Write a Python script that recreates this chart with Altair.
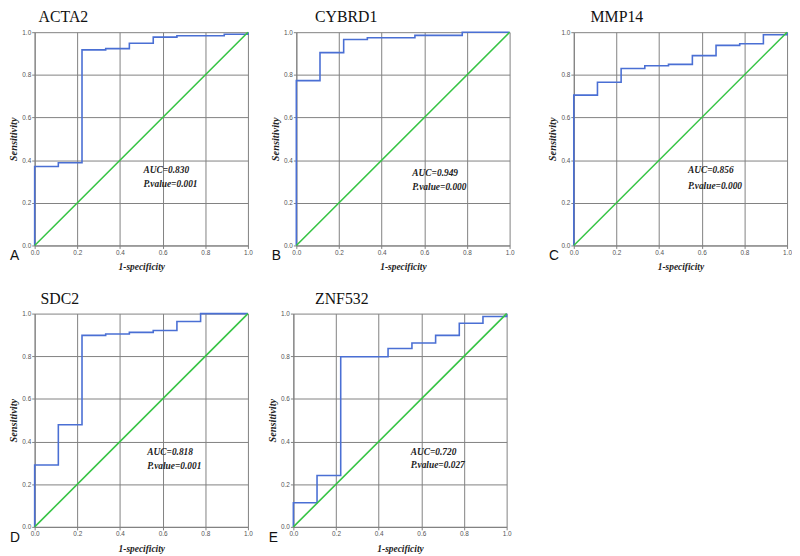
import altair as alt
import pandas as pd

GENES = ["ACTA2", "CYBRD1", "MMP14", "SDC2", "ZNF532"]
LETTERS = ["A", "B", "C", "D", "E"]
AUC = ["0.830", "0.949", "0.856", "0.818", "0.720"]
PVAL = ["0.001", "0.000", "0.000", "0.001", "0.027"]

FPR_ACTA2 = [0.0, 0.0, 0.111, 0.222, 0.333, 0.444, 0.556, 0.667, 0.889, 1.0]
TPR_ACTA2 = [0.0, 0.370, 0.388, 0.917, 0.923, 0.948, 0.977, 0.983, 0.990, 1.0]

FPR_CYBRD1 = [0.0, 0.0, 0.111, 0.222, 0.333, 0.556, 0.778, 1.0]
TPR_CYBRD1 = [0.0, 0.773, 0.904, 0.966, 0.974, 0.985, 1.0, 1.0]

FPR_MMP14 = [0.0, 0.0, 0.111, 0.222, 0.333, 0.444, 0.556, 0.667, 0.778, 0.889, 1.0]
TPR_MMP14 = [0.0, 0.705, 0.765, 0.830, 0.843, 0.849, 0.890, 0.938, 0.946, 0.988, 1.0]

FPR_SDC2 = [0.0, 0.0, 0.111, 0.222, 0.333, 0.444, 0.556, 0.667, 0.778, 1.0]
TPR_SDC2 = [0.0, 0.290, 0.479, 0.898, 0.904, 0.912, 0.921, 0.963, 1.0, 1.0]

FPR_ZNF532 = [0.0, 0.0, 0.111, 0.222, 0.444, 0.556, 0.667, 0.778, 0.889, 1.0]
TPR_ZNF532 = [0.0, 0.113, 0.241, 0.798, 0.836, 0.862, 0.898, 0.955, 0.986, 1.0]

CURVES = [
    (FPR_ACTA2, TPR_ACTA2),
    (FPR_CYBRD1, TPR_CYBRD1),
    (FPR_MMP14, TPR_MMP14),
    (FPR_SDC2, TPR_SDC2),
    (FPR_ZNF532, TPR_ZNF532),
]
DIAG = [0.0, 1.0]
TICKS = [0.0, 0.2, 0.4, 0.6, 0.8, 1.0]

# layout / style
W = 216
H = 216
TITLE_DX = [4, 19, 17, 6, 22]
ANNOT_X = [0.51, 0.544, 0.535, 0.528, 0.55]
ANNOT_Y1 = [0.356, 0.338, 0.352, 0.353, 0.353]
ANNOT_Y2 = [0.287, 0.273, 0.278, 0.284, 0.288]
BLUE = "#4a6fd4"
GREEN = "#36c444"
GRID = "#808080"
SERIF = "Liberation Serif"


def panel(i):
    fpr, tpr = CURVES[i]
    xs = alt.Scale(domain=[0, 1], nice=False, zero=False)
    ys = alt.Scale(domain=[0, 1], nice=False, zero=False)
    xaxis = alt.Axis(values=TICKS, format=".1f", title="1-specificity",
                     labelFlush=False)
    yaxis = alt.Axis(values=TICKS, format=".1f", title="Sensitivity")

    roc_df = pd.DataFrame({"fpr": fpr, "tpr": tpr, "order": list(range(len(fpr)))})
    roc = alt.Chart(roc_df).mark_line(
        interpolate="step-after", color=BLUE, strokeWidth=1.6
    ).encode(
        x=alt.X("fpr:Q", scale=xs, axis=xaxis),
        y=alt.Y("tpr:Q", scale=ys, axis=yaxis),
        order="order:Q",
    )

    diag_df = pd.DataFrame({"a": DIAG, "b": DIAG})
    diag = alt.Chart(diag_df).mark_line(color=GREEN, strokeWidth=1.6).encode(
        x=alt.X("a:Q", scale=xs, axis=xaxis),
        y=alt.Y("b:Q", scale=ys, axis=yaxis),
    )

    txt_df = pd.DataFrame({
        "x": [ANNOT_X[i], ANNOT_X[i]],
        "y": [ANNOT_Y1[i], ANNOT_Y2[i]],
        "t": ["AUC=" + AUC[i], "P.value=" + PVAL[i]],
    })
    annot = alt.Chart(txt_df).mark_text(
        align="left", baseline="middle", font=SERIF, fontSize=9.5,
        fontStyle="italic", fontWeight="bold", color="#222222"
    ).encode(
        x=alt.X("x:Q", scale=xs, axis=xaxis),
        y=alt.Y("y:Q", scale=ys, axis=yaxis),
        text="t:N",
    )

    title = alt.Chart(pd.DataFrame({"t": [GENES[i]]})).mark_text(
        align="left", baseline="alphabetic", font=SERIF, fontSize=16,
        color="#111111"
    ).encode(
        x=alt.value(TITLE_DX[i]), y=alt.value(-10), text="t:N"
    )

    letter = alt.Chart(pd.DataFrame({"t": [LETTERS[i]]})).mark_text(
        align="left", baseline="alphabetic", font="Liberation Sans",
        fontSize=14, color="#111111"
    ).encode(
        x=alt.value(-25), y=alt.value(H + 15), text="t:N"
    )

    return alt.layer(roc, diag, annot, title, letter).properties(width=W, height=H)


def build(pad_top):
    row1 = alt.hconcat(
        alt.hconcat(panel(0), panel(1), spacing=17),
        panel(2), spacing=33,
    )
    row2 = alt.hconcat(panel(3), panel(4), spacing=14)
    return alt.vconcat(row1, row2, spacing=20).properties(
        padding={"left": 0, "top": pad_top, "right": 0, "bottom": 0}
    ).configure_view(
        stroke=None
    ).configure_axis(
        grid=True,
        gridColor=GRID,
        gridWidth=1,
        gridOpacity=1,
        domainColor=GRID,
        tickColor=GRID,
        tickSize=3,
        labelFontSize=6.5,
        labelColor="#555555",
        labelFont="Liberation Sans",
        labelPadding=1,
        titleFont=SERIF,
        titleFontStyle="italic",
        titleFontWeight="bold",
        titleColor="#222222",
    ).configure_axisX(
        titlePadding=6,
        titleFontSize=9.5,
    ).configure_axisY(
        titlePadding=3,
        titleFontSize=10.5,
    )


try:
    chart = build(-2)
    chart.save("out.html", embed_options={"renderer": "svg", "actions": False})
except Exception:
    chart = build(0)
    chart.save("out.html", embed_options={"renderer": "svg", "actions": False})
